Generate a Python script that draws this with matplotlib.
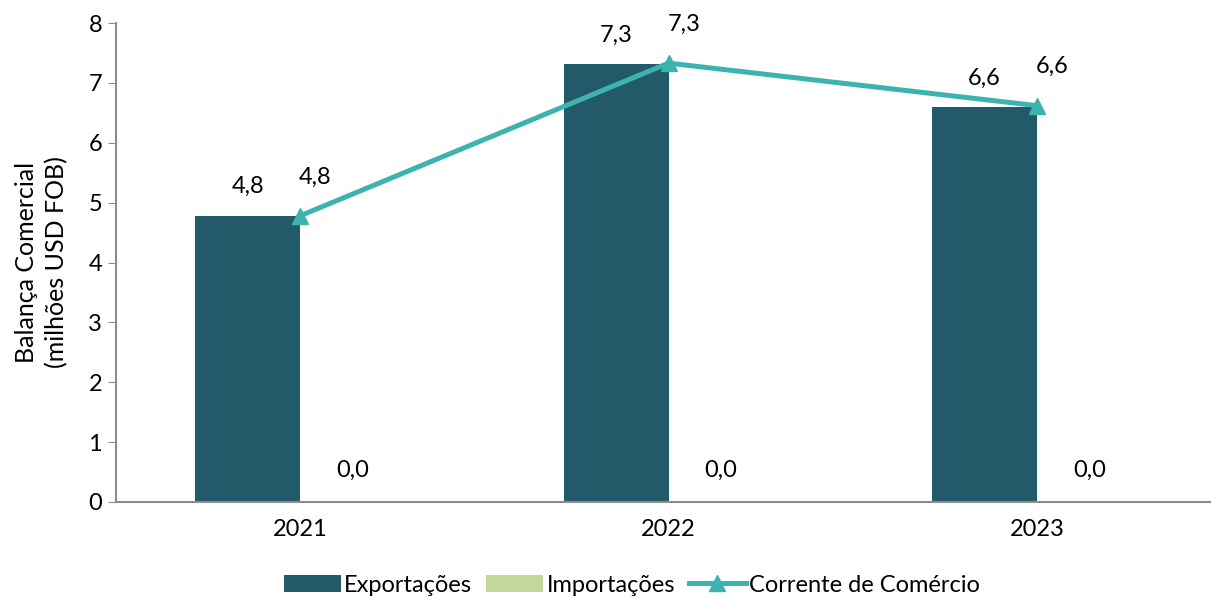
import numpy as np
import matplotlib
matplotlib.use("Agg")
import matplotlib.pyplot as plt

plt.rcParams['font.family'] = ['Lato', 'DejaVu Sans']

anos = ['2021', '2022', '2023']
exportacoes = [4.78, 7.31, 6.59]
importacoes = [0.02, 0.02, 0.02]
corrente = [4.78, 7.33, 6.62]

cor_exp = '#235A69'
cor_imp = '#C4D79B'
cor_lin = '#3DB3AF'
cor_eixo = '#8C8C8C'
fs = 17

fig = plt.figure(figsize=(12.11, 5.99), dpi=100)
ax = fig.add_axes([116 / 1211, 97 / 599, 1105 / 1211, 479 / 599])

x = np.arange(len(anos))
w = 0.285
b1 = ax.bar(x - w / 2, exportacoes, w, color=cor_exp, label='Exportações')
b2 = ax.bar(x + w / 2, importacoes, w, color=cor_imp, label='Importações')
ln, = ax.plot(x, corrente, color=cor_lin, lw=3.6, marker='^', ms=12,
              label='Corrente de Comércio')

fmt = lambda v: f'{v:.1f}'.replace('.', ',')
for xi, v in zip(x - w / 2, exportacoes):
    ax.annotate(fmt(v), (xi, v), xytext=(0, 21), textcoords='offset points',
                ha='center', va='center', fontsize=fs)
for xi, v in zip(x + w / 2, importacoes):
    ax.annotate(fmt(v), (xi, v), xytext=(0, 22), textcoords='offset points',
                ha='center', va='center', fontsize=fs)
for xi, v in zip(x, corrente):
    ax.annotate(fmt(v), (xi, v), xytext=(11, 28), textcoords='offset points',
                ha='center', va='center', fontsize=fs)

ax.set_xlim(-0.5, 2.5)
ax.set_ylim(0, 8)
ax.set_yticks(range(0, 9))
ax.set_xticks(x)
ax.set_xticklabels(anos)
ax.tick_params(axis='y', labelsize=fs, length=6, color=cor_eixo, pad=4)
ax.tick_params(axis='x', labelsize=fs, length=0, pad=12)
for s in ['top', 'right']:
    ax.spines[s].set_visible(False)
for s in ['left', 'bottom']:
    ax.spines[s].set_color(cor_eixo)
    ax.spines[s].set_linewidth(1.5)

ax.set_ylabel('Balança Comercial\n(milhões USD FOB)', fontsize=fs + 1, labelpad=14,
              linespacing=1.4)

fig.legend(handles=[b1, b2, ln], loc='center', bbox_to_anchor=(632 / 1211, 1 - 585 / 599),
           ncol=3, frameon=False, fontsize=fs, handlelength=2.4, handletextpad=0.15,
           columnspacing=0.6, borderpad=0)

fig.savefig('out.png', dpi=100)
